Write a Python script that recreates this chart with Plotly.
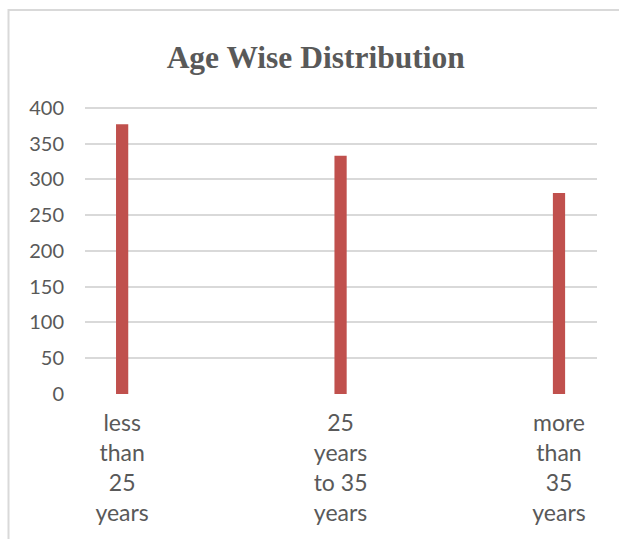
import plotly.graph_objects as go

categories = ["less<br>than<br>25<br>years", "25<br>years<br>to 35<br>years", "more<br>than<br>35<br>years"]
values = [377, 333, 281]
y_ticks = [0, 50, 100, 150, 200, 250, 300, 350, 400]

x_pos = list(range(len(categories)))

fig = go.Figure()
fig.add_trace(go.Bar(
    x=x_pos, y=values, width=0.056,
    marker=dict(color="#C0504D", line=dict(width=0)),
    hoverinfo="skip",
))

text_color = "#595959"
top_m = 105
plot_h = 539 - top_m - 145
fig.update_layout(
    width=619, height=539,
    margin=dict(l=85, r=22, t=top_m, b=145),
    paper_bgcolor="white", plot_bgcolor="white",
    showlegend=False,
    title=dict(
        text="<b>Age Wise Distribution</b>",
        font=dict(family="Liberation Serif", size=31.5, color=text_color),
        x=0.51, xanchor="center", y=1 - 57 / 539, yanchor="middle",
        xref="container", yref="container",
    ),
    xaxis=dict(
        range=[-0.17, 2.174],
        tickmode="array", tickvals=x_pos, ticktext=categories,
        showgrid=False, zeroline=False, showline=False, ticks="",
        tickfont=dict(family="Lato", size=23, color=text_color),
        ticklabelstandoff=13,
        fixedrange=True,
    ),
    yaxis=dict(
        range=[0, 404],
        tickmode="array", tickvals=y_ticks,
        showgrid=True, gridcolor="#d9d9d9", gridwidth=2,
        zeroline=False, showline=False, ticks="",
        tickfont=dict(family="Lato", size=20, color=text_color),
        ticklabelstandoff=20,
        fixedrange=True,
    ),
    shapes=[dict(
        type="rect", xref="paper", yref="paper",
        x0=(8.5 - 85) / 512, x1=1.3, y0=-1.0, y1=1 + (top_m - 10) / plot_h,
        line=dict(color="#d9d9d9", width=2), fillcolor="rgba(0,0,0,0)",
        layer="below",
    )],
)

fig.write_html("out.html", config={"displayModeBar": False})
